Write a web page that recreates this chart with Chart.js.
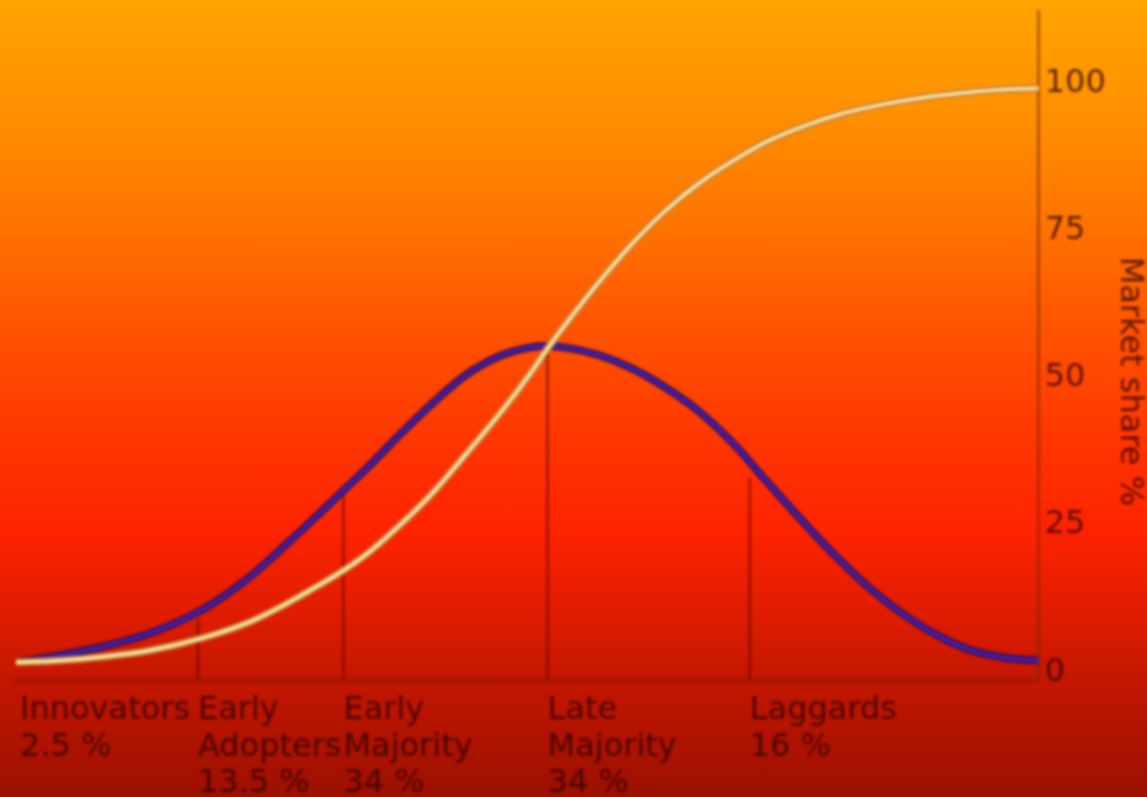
<!DOCTYPE html>
<html>
<head>
    <meta charset="UTF-8">
    <title>Diffusion of innovations</title>
    <script src="https://cdn.jsdelivr.net/npm/chart.js"></script>
    <style>
        html, body { margin: 0; padding: 0; }
        body {
            width: 1147px; height: 797px; overflow: hidden;
            background: linear-gradient(to bottom, #ffa400 0%, #ff9000 14%, #ff7400 28%, #ff5200 42%, #ff3400 56%, #ff2400 66%, #dc1c00 78%, #c21600 86%, #9c1000 100%);
        }
        #wrap { position: relative; width: 1147px; height: 797px; }
        #myChart { filter: blur(1.4px); }
    </style>
</head>
<body>
    <div id="wrap"><canvas id="myChart"></canvas></div>
    <script>
        // x positions in standard deviations from the mean
        const xPos = [-2.63, -2.41, -2.21, -1.97, -1.71, -1.47, -1.31, -1.14, -1.01, -0.89, -0.73, -0.56, -0.40, -0.23, -0.08,
                      0, 0.10, 0.26, 0.43, 0.59, 0.76, 0.92, 1.09, 1.29, 1.45, 1.61, 1.78, 1.95, 2.11, 2.28, 2.43];
        // adopters per period (bell curve)
        const adopters = [1.7, 2.9, 4.3, 6.6, 10.6, 16.3, 21.2, 26.6, 30.9, 34.8, 40.4, 46.0, 50.6, 53.8, 55.2,
                          55.4, 55.1, 53.8, 51.4, 48.2, 44.0, 38.8, 32.2, 24.6, 18.9, 13.8, 9.4, 5.9, 3.6, 2.4, 2.0];
        // cumulative market share %
        const marketShare = [1.7, 2.0, 2.6, 3.7, 5.8, 8.6, 11.3, 14.6, 17.3, 20.2, 25.0, 30.8, 37.2, 44.2, 51.0,
                             55.0, 59.6, 66.5, 73.2, 78.6, 83.3, 86.9, 90.2, 93.0, 94.8, 96.1, 97.2, 98.0, 98.6, 99.0, 99.2];

        const segmentStart = [-2.61, -1.73, -1.01, 0, 1.0];
        const segmentLabels = [
            ['Innovators', '2.5 %'],
            ['Early', 'Adopters', '13.5 %'],
            ['Early', 'Majority', '34 %'],
            ['Late', 'Majority', '34 %'],
            ['Laggards', '16 %']
        ];
        const boundaryX = [-1.73, -1.01, 0, 1.0];
        const boundaryTop = [9, 30.9, 55.4, 33];
        const yTicks = [0, 25, 50, 75, 100];

        const yMin = -1.4;
        const textColor = 'rgba(45, 0, 0, 0.76)';

        const points = (ys) => xPos.map((x, i) => ({x: x, y: ys[i]}));

        const datasets = [];
        boundaryX.forEach((bx, i) => {
            datasets.push({
                data: [{x: bx, y: yMin}, {x: bx, y: boundaryTop[i]}],
                borderColor: 'rgba(100, 0, 0, 0.6)',
                borderWidth: 2.5,
                pointRadius: 0,
                order: 10
            });
        });
        // each curve drawn twice: dark rim, then lighter core
        datasets.push({ data: points(adopters), borderColor: '#45104e', borderWidth: 8, pointRadius: 0, cubicInterpolationMode: 'monotone', order: 4 });
        datasets.push({ data: points(adopters), borderColor: '#3a22b8', borderWidth: 3.5, pointRadius: 0, cubicInterpolationMode: 'monotone', order: 3 });
        datasets.push({ data: points(marketShare), borderColor: '#c8803c', borderWidth: 7.5, pointRadius: 0, cubicInterpolationMode: 'monotone', order: 2 });
        datasets.push({ data: points(marketShare), borderColor: '#f8e6a4', borderWidth: 3.5, pointRadius: 0, cubicInterpolationMode: 'monotone', order: 1 });

        const ctx = document.getElementById('myChart').getContext('2d');
        const chart = new Chart(ctx, {
            type: 'line',
            data: { datasets: datasets },
            options: {
                responsive: true,
                maintainAspectRatio: false,
                animation: false,
                layout: { padding: { left: 16, top: 11, right: 0, bottom: -17 } },
                plugins: {
                    legend: { display: false },
                    tooltip: { enabled: false }
                },
                scales: {
                    x: {
                        type: 'linear',
                        min: -2.63,
                        max: 2.43,
                        afterBuildTicks: (scale) => { scale.ticks = segmentStart.map(v => ({value: v})); },
                        grid: { display: false, drawTicks: false },
                        border: { display: true, color: '#a81600', width: 5 },
                        ticks: {
                            autoSkip: false,
                            maxRotation: 0,
                            minRotation: 0,
                            align: 'start',
                            padding: 12,
                            color: textColor,
                            font: { family: 'DejaVu Sans', size: 32, lineHeight: 1.14 },
                            callback: (value, index) => segmentLabels[index]
                        }
                    },
                    y: {
                        position: 'right',
                        min: yMin,
                        max: 112.3,
                        afterBuildTicks: (scale) => { scale.ticks = yTicks.map(v => ({value: v})); },
                        grid: { display: false, drawTicks: false },
                        border: { display: true, color: 'rgba(120, 40, 0, 0.55)', width: 3 },
                        ticks: {
                            padding: 6,
                            color: textColor,
                            font: { family: 'DejaVu Sans', size: 32, lineHeight: 0.2 }
                        },
                        title: {
                            display: true,
                            text: '       Market share %',
                            color: textColor,
                            padding: { top: 0, bottom: 0 },
                            font: { family: 'DejaVu Sans', size: 32, lineHeight: 1.1 }
                        }
                    }
                }
            }
        });
    </script>
</body>
</html>
